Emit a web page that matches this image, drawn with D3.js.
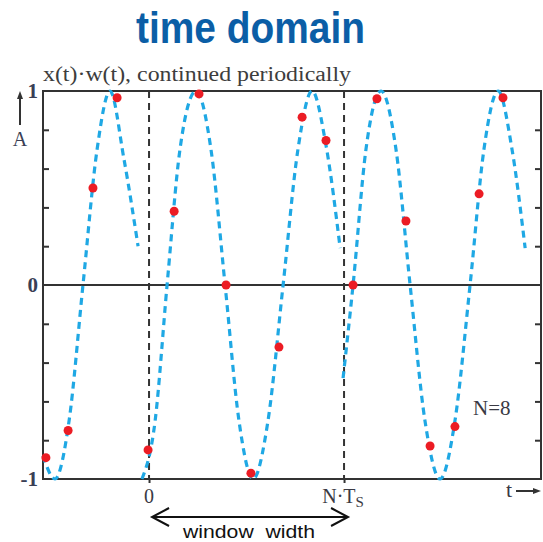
<!DOCTYPE html>
<html>
<head>
<meta charset="utf-8">
<script src="https://cdn.jsdelivr.net/npm/d3@7"></script>
<style>
  body { margin: 0; background: #fff; }
  svg { display: block; }
</style>
</head>
<body>
<script>
// sample points (t in units of Ts, amplitude)
var sampleT = [-4.23, -3.32, -2.30, -1.31, -0.04, 1.03, 2.05, 3.16, 4.18, 5.33, 6.28, 7.26, 8.37, 9.35, 10.54, 11.53, 12.55, 13.54, 14.52];
var sampleA = [-0.89, -0.75, 0.50, 0.965, -0.85, 0.38, 0.985, 0, -0.97, -0.32, 0.865, 0.745, 0, 0.96, 0.33, -0.83, -0.73, 0.47, 0.965];

// the dashed signal, one piece per window copy
var seg0T = [-4.35, -3.86, -3.28, -2.71, -2.13, -1.60, -1.03, -0.45];
var seg0A = [-0.88, -1, -0.7, 0, 0.7, 1, 0.65, 0.2];
var seg1T = [-0.29, 0.25, 0.74, 1.27, 1.93, 2.54, 3.12, 3.69, 4.27, 4.88, 5.50, 6.11, 6.69, 7.26, 7.84];
var seg1A = [-1, -0.7, 0, 0.7, 1, 0.7, 0, -0.7, -1, -0.7, 0, 0.7, 1, 0.72, 0.19];
var seg2T = [7.96, 8.37, 8.90, 9.52, 10.13, 10.71, 11.32, 11.94, 12.55, 13.17, 13.74, 14.32, 14.89, 15.43];
var seg2A = [-0.48, 0, 0.7, 1, 0.7, 0, -0.7, -1, -0.7, 0, 0.7, 1, 0.7, 0.19];

var windowEdges = [0, 8];
var minorTicks = [-0.8, -0.6, -0.4, -0.2, 0.2, 0.4, 0.6, 0.8];
var yLabels = [-1, 0, 1];

var w = 543, h = 542;
var x = d3.scaleLinear().domain([-4.35, 16.08]).range([43, 541]);
var y = d3.scaleLinear().domain([-1, 1]).range([479, 91]);

var svg = d3.select('body').append('svg').attr('width', w).attr('height', h);
var ink = '#333';
var serif = '"Liberation Serif", "Times New Roman", serif';

// title
svg.append('text')
  .attr('x', 136).attr('y', 43)
  .attr('font-family', '"Liberation Sans", Arial, sans-serif')
  .attr('font-weight', 'bold').attr('font-size', 45)
  .attr('fill', '#0b5ea6')
  .attr('textLength', 229).attr('lengthAdjust', 'spacingAndGlyphs')
  .text('time domain');

svg.append('text')
  .attr('x', 43).attr('y', 81)
  .attr('font-family', serif).attr('font-size', 20)
  .attr('fill', '#3d3d3d')
  .attr('textLength', 308).attr('lengthAdjust', 'spacingAndGlyphs')
  .text('x(t)\u00b7w(t), continued periodically');

// inner ticks
svg.append('g').attr('transform', 'translate(' + x.range()[0] + ',0)')
  .call(d3.axisRight(y).tickValues(minorTicks).tickSize(6).tickFormat(''))
  .call(function(g){ g.select('.domain').remove(); g.selectAll('line').attr('stroke', ink).attr('stroke-width', 2); });
svg.append('g').attr('transform', 'translate(' + x.range()[1] + ',0)')
  .call(d3.axisLeft(y).tickValues(minorTicks).tickSize(6).tickFormat(''))
  .call(function(g){ g.select('.domain').remove(); g.selectAll('line').attr('stroke', ink).attr('stroke-width', 2); });

// y labels
svg.append('g').attr('transform', 'translate(' + x.range()[0] + ',0)')
  .call(d3.axisLeft(y).tickValues(yLabels).tickSize(0).tickPadding(5)
    .tickFormat(function(d){ return d === -1 ? '-1' : String(d); }))
  .call(function(g){
    g.select('.domain').remove();
    g.selectAll('text').attr('font-family', serif).attr('font-size', 21)
      .attr('font-weight', 'bold').attr('fill', '#3a3f55');
  });

// x ticks below the frame
var xAxis = svg.append('g').attr('transform', 'translate(0,' + y(-1) + ')')
  .call(d3.axisBottom(x).tickValues(windowEdges).tickSize(4).tickFormat(''))
  .call(function(g){ g.select('.domain').remove(); g.selectAll('line').attr('stroke', ink).attr('stroke-width', 2); });

svg.append('text')
  .attr('x', x(0)).attr('y', 503).attr('text-anchor', 'middle')
  .attr('font-family', serif).attr('font-size', 20).attr('fill', '#3a3a44')
  .text('0');
var nts = svg.append('text')
  .attr('x', x(8) - 1).attr('y', 503).attr('text-anchor', 'middle')
  .attr('font-family', serif).attr('font-size', 20).attr('fill', '#3a3a44');
nts.append('tspan').text('N\u00b7T');
nts.append('tspan').attr('font-size', 15).attr('dy', 4).text('S');

// frame and zero line
svg.append('rect')
  .attr('x', x.range()[0]).attr('y', y(1))
  .attr('width', x.range()[1] - x.range()[0]).attr('height', y(-1) - y(1))
  .attr('fill', 'none').attr('stroke', ink).attr('stroke-width', 2);
svg.append('line')
  .attr('x1', x.range()[0]).attr('x2', x.range()[1])
  .attr('y1', y(0)).attr('y2', y(0))
  .attr('stroke', ink).attr('stroke-width', 2);

// window edges
svg.selectAll('.edge').data(windowEdges).enter().append('line')
  .attr('class', 'edge')
  .attr('x1', function(d){ return x(d); }).attr('x2', function(d){ return x(d); })
  .attr('y1', y(1)).attr('y2', y(-1))
  .attr('stroke', ink).attr('stroke-width', 2).attr('stroke-dasharray', '7,5');

// signal
var line = d3.line()
  .x(function(d){ return x(d[0]); })
  .y(function(d){ return y(d[1]); })
  .curve(d3.curveMonotoneX);
var segs = [[seg0T, seg0A], [seg1T, seg1A], [seg2T, seg2A]].map(function(s){
  return s[0].map(function(t, i){ return [t, s[1][i]]; });
});
svg.selectAll('.sig').data(segs).enter().append('path')
  .attr('class', 'sig')
  .attr('d', line)
  .attr('fill', 'none').attr('stroke', '#1fa8e4')
  .attr('stroke-width', 3.2).attr('stroke-dasharray', '7,5');

// samples
svg.selectAll('.smp').data(sampleT).enter().append('circle')
  .attr('class', 'smp')
  .attr('cx', function(d){ return x(d); })
  .attr('cy', function(d, i){ return y(sampleA[i]); })
  .attr('r', 4.5).attr('fill', '#ec1c24');

// N=8
svg.append('text')
  .attr('x', 473).attr('y', 415)
  .attr('font-family', serif).attr('font-size', 21).attr('fill', '#3a3a44')
  .text('N=8');

// A with arrow
svg.append('line').attr('x1', 20).attr('x2', 20).attr('y1', 125).attr('y2', 96)
  .attr('stroke', ink).attr('stroke-width', 2);
svg.append('path').attr('d', 'M20,91 L17,99 L23,99 Z').attr('fill', ink);
svg.append('text')
  .attr('x', 20).attr('y', 146).attr('text-anchor', 'middle')
  .attr('font-family', serif).attr('font-size', 20).attr('fill', '#3a3f55')
  .text('A');

// t with arrow
svg.append('text')
  .attr('x', 509).attr('y', 497).attr('text-anchor', 'middle')
  .attr('font-family', serif).attr('font-size', 22).attr('fill', '#3a3a44')
  .text('t');
svg.append('line').attr('x1', 516).attr('x2', 536).attr('y1', 491).attr('y2', 491)
  .attr('stroke', ink).attr('stroke-width', 2);
svg.append('path').attr('d', 'M541,491 L533,488 L533,494 Z').attr('fill', ink);

// window width arrow
var ax0 = x(0) + 3, ax1 = x(8) + 4, ay = 517;
svg.append('line').attr('x1', ax0).attr('x2', ax1).attr('y1', ay).attr('y2', ay)
  .attr('stroke', '#111').attr('stroke-width', 2);
svg.append('path')
  .attr('d', 'M' + (ax0 + 17) + ',' + (ay - 9) + ' L' + ax0 + ',' + ay + ' L' + (ax0 + 17) + ',' + (ay + 9))
  .attr('fill', 'none').attr('stroke', '#111').attr('stroke-width', 2);
svg.append('path')
  .attr('d', 'M' + (ax1 - 17) + ',' + (ay - 9) + ' L' + ax1 + ',' + ay + ' L' + (ax1 - 17) + ',' + (ay + 9))
  .attr('fill', 'none').attr('stroke', '#111').attr('stroke-width', 2);
svg.append('text')
  .attr('x', 183).attr('y', 538)
  .attr('font-family', '"Liberation Sans", Arial, sans-serif').attr('font-size', 18)
  .attr('fill', '#111').style('white-space', 'pre')
  .attr('textLength', 132).attr('lengthAdjust', 'spacingAndGlyphs')
  .text('window  width');
</script>
</body>
</html>
